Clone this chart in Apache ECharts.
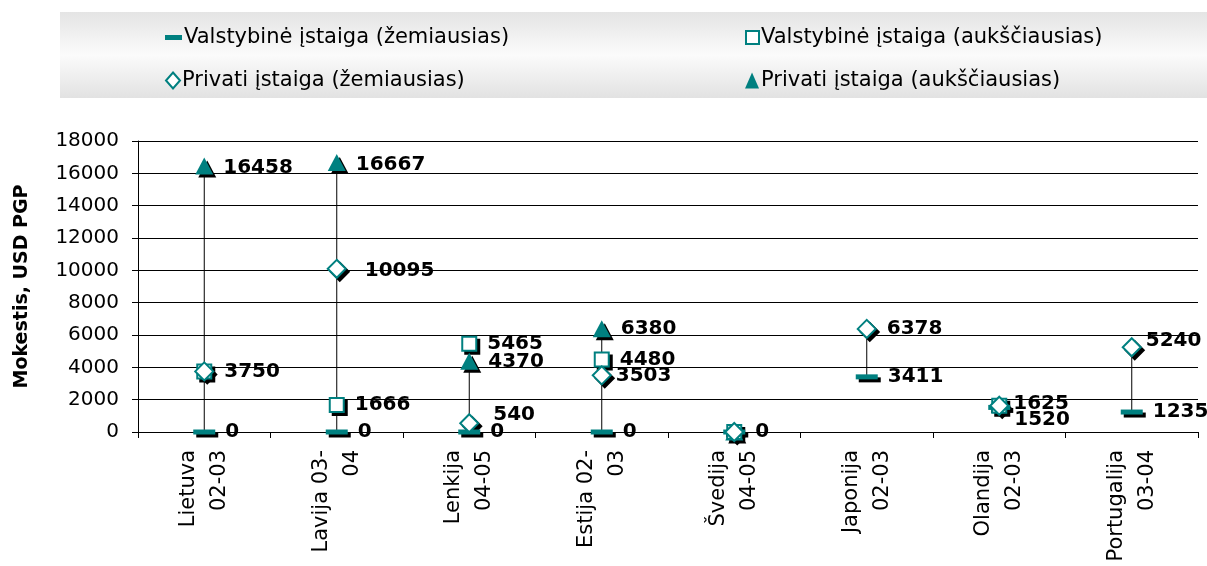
<!DOCTYPE html>
<html>
<head>
<meta charset="utf-8">
<script src="https://cdn.jsdelivr.net/npm/echarts@6/dist/echarts.min.js"></script>
<style>
  html, body { margin: 0; padding: 0; background: #fff; }
  #main { width: 1207px; height: 566px; }
</style>
</head>
<body>
<div id="main"></div>
<script>
// duomenys
var categories = ['Lietuva\n02-03', 'Lavija 03-\n04', 'Lenkija\n04-05', 'Estija 02-\n03',
  'Švedija\n04-05', 'Japonija\n02-03', 'Olandija\n02-03', 'Portugalija\n03-04'];
var valstMin = [0, 0, 0, 0, 0, 3411, 1520, 1235];
var valstMax = [3750, 1666, 5465, 4480, 0, null, 1625, null];
var privMin = [3750, 10095, 540, 3503, 0, 6378, 1625, 5240];
var privMax = [16458, 16667, 4370, 6380, 0, null, null, null];
var yTicks = [0, 2000, 4000, 6000, 8000, 10000, 12000, 14000, 16000, 18000];

var names = ['Valstybinė įstaiga (žemiausias)', 'Valstybinė įstaiga (aukščiausias)',
  'Privati įstaiga (žemiausias)', 'Privati įstaiga (aukščiausias)'];

var teal = '#008080';
var fontFam = '"DejaVu Sans", Verdana, sans-serif';

// etikečių pataisos (kad nesidengtų)
var hideLabel = { '1-0': true, '1-6': true, '1-4': true, '2-4': true, '3-4': true };
var labelShift = { '2-2': [4, -8], '0-6': [-6, 12], '2-6': [-6, -2], '2-7': [-6, -6], '2-3': [-6, 0], '2-1': [8, 2], '3-0': [0, 2], '3-1': [0, 2] };

function toData(arr, s) {
  return arr.map(function (v, i) {
    if (v === null) return '-';
    var key = s + '-' + i;
    var item = { value: v };
    if (hideLabel[key]) item.label = { show: false };
    else if (labelShift[key]) item.label = { offset: labelShift[key] };
    return item;
  });
}

// vertikalios linijos nuo min iki max
var stems = categories.map(function (c, i) {
  var vals = [valstMin[i], valstMax[i], privMin[i], privMax[i]].filter(function (v) { return v !== null; });
  return [i, Math.min.apply(null, vals), Math.max.apply(null, vals)];
});

var labelStyle = {
  show: true, position: 'right', distance: 10,
  color: '#000', fontSize: 20, fontWeight: 'bold', fontFamily: fontFam
};

var symbols = [
  { symbol: 'rect', size: [22, 5], style: { color: teal, opacity: 1 } },
  { symbol: 'rect', size: 14, style: { color: '#fff', borderColor: teal, borderWidth: 2, opacity: 1 } },
  { symbol: 'diamond', size: 18, style: { color: '#fff', borderColor: teal, borderWidth: 2, opacity: 1 } },
  { symbol: 'triangle', size: [18, 17], style: { color: teal, opacity: 1 } }
];
var arrays = [valstMin, valstMax, privMin, privMax];
var markZ = [4, 6, 7, 5];

function legendAt(name, left, top, icon, w, h) {
  return {
    data: [name], left: left, top: top, icon: icon,
    itemWidth: w, itemHeight: h, itemGap: 4,
    textStyle: { color: '#000', fontSize: 21, fontFamily: fontFam, padding: [0, 0, 0, -3] }
  };
}

var series = [{
  type: 'custom',
  z: 1,
  silent: true,
  data: stems,
  renderItem: function (params, api) {
    var p1 = api.coord([api.value(0), api.value(1)]);
    var p2 = api.coord([api.value(0), api.value(2)]);
    return {
      type: 'line',
      shape: { x1: p1[0], y1: p1[1], x2: p2[0], y2: p2[1] },
      style: { stroke: '#000', lineWidth: 1 }
    };
  }
}];

// šešėliai po žymekliais
arrays.forEach(function (arr, s) {
  series.push({
    name: 'shadow' + s, type: 'scatter', z: 2, silent: true,
    symbol: symbols[s].symbol, symbolSize: symbols[s].size, symbolOffset: [3, 3],
    itemStyle: { color: '#000', borderColor: '#000', borderWidth: symbols[s].style.borderWidth || 0, opacity: 1 },
    data: arr.map(function (v) { return v === null ? '-' : v; })
  });
});

arrays.forEach(function (arr, s) {
  series.push({
    name: names[s], type: 'scatter', z: markZ[s],
    symbol: symbols[s].symbol, symbolSize: symbols[s].size,
    itemStyle: symbols[s].style,
    label: labelStyle,
    data: toData(arr, s)
  });
});

var chart = echarts.init(document.getElementById('main'));

chart.setOption({
  animation: false,
  graphic: [{
    type: 'rect', left: 60, top: 12, z: -10,
    shape: { width: 1147, height: 86 },
    style: {
      fill: new echarts.graphic.LinearGradient(0, 0, 0, 1, [
        { offset: 0, color: '#e4e4e4' },
        { offset: 0.5, color: '#fbfbfb' },
        { offset: 1, color: '#e2e2e2' }
      ])
    }
  }],
  legend: [
    legendAt(names[0], 160, 22, 'rect', 17, 5),
    legendAt(names[1], 740, 22, 'rect', 13, 13),
    legendAt(names[2], 160, 65, 'diamond', 14, 16),
    legendAt(names[3], 740, 65, 'triangle', 14, 16)
  ],
  grid: { left: 138, right: 9, top: 141, bottom: 134 },
  xAxis: {
    type: 'category',
    data: categories,
    boundaryGap: true,
    axisLine: { lineStyle: { color: '#000', width: 1 } },
    axisTick: { show: true, length: 6, lineStyle: { color: '#000' } },
    axisLabel: {
      rotate: 90, interval: 0, margin: 18,
      color: '#000', fontSize: 21, lineHeight: 31, fontFamily: fontFam
    }
  },
  yAxis: {
    type: 'value',
    min: 0, max: 18000, interval: 2000,
    name: 'Mokestis, USD PGP',
    nameLocation: 'middle',
    nameGap: 106,
    nameRotate: 90,
    nameTextStyle: { color: '#000', fontSize: 19, fontWeight: 'bold', fontFamily: fontFam },
    axisLine: { show: true, lineStyle: { color: '#000', width: 1 } },
    axisTick: { show: true, length: 6, lineStyle: { color: '#000' } },
    axisLabel: {
      color: '#000', fontSize: 20, fontFamily: fontFam, margin: 19,
      formatter: function (v) { return yTicks.indexOf(v) >= 0 ? String(v) : ''; }
    },
    splitLine: { lineStyle: { color: '#000', width: 1 } }
  },
  series: series
});
</script>
</body>
</html>
